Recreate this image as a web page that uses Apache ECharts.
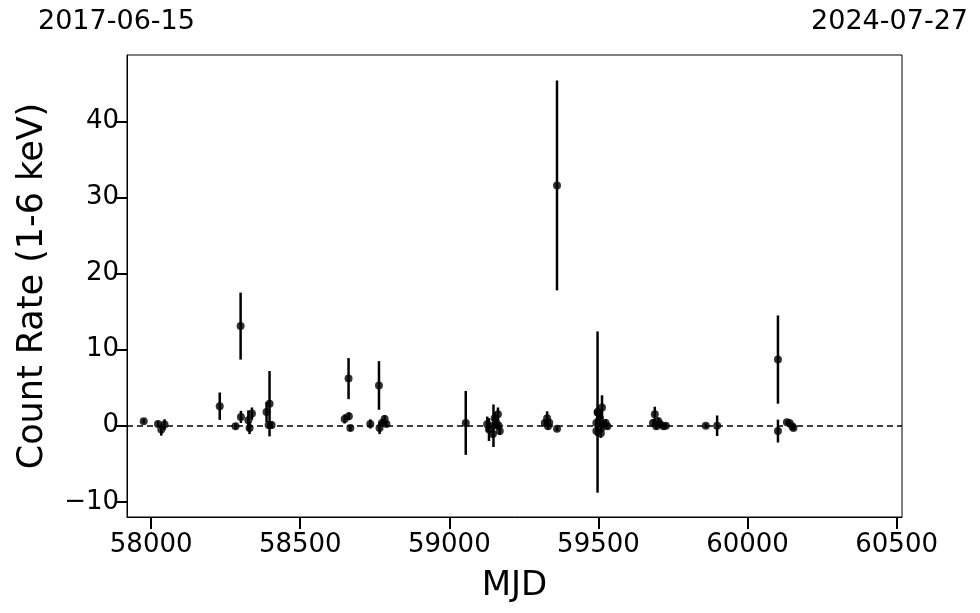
<!DOCTYPE html>
<html>
<head>
<meta charset="utf-8">
<script src="https://cdn.jsdelivr.net/npm/echarts@6/dist/echarts.min.js"></script>
<style>html,body{margin:0;padding:0;background:#fff;}#c{width:980px;height:613px;}</style>
</head>
<body>
<div id="c"></div>
<script>
// ---- data ----
const mjd  = [57975,58023,58034,58045,58230,58283,58300,58301,58326,58330,58338,58387,58397,58394,58404,
              58649,58662,58663,58668,58735,58764,58766,58774,58783,58789,
              59055,59127,59133,59146,59148,59152,59158,59163,59169,59165,
              59320,59328,59331,59335,59361,59361,
              59493,59497,59498,59512,59505,59510,59515,59524,59530,59493,59508,
              59689,59683,59694,59701,59707,59718,59726,
              59860,59898,60102,60102,60132,60141,60150,60154];
const rate = [0.6,0.24,-0.5,0.15,2.57,-0.07,13.1,1.16,0.72,-0.3,1.6,1.8,2.9,0.1,0.1,
              0.9,6.2,1.25,-0.3,0.24,5.3,-0.3,0.37,0.9,0.24,
              0.37,0.2,-0.5,-1.1,0.0,1.0,0.37,1.5,-0.7,0.0,
              0.37,1.0,-0.07,0.4,-0.4,31.6,
              0.37,1.8,1.7,2.4,1.0,-0.3,0.2,0.37,-0.07,-0.7,-1.0,
              1.5,0.37,-0.07,0.6,0.2,-0.07,0.0,
              0.0,0.0,8.7,-0.7,0.46,0.37,-0.07,-0.3];
const err  = [0.3,0.4,0.8,0.7,1.8,0.4,4.4,0.8,1.3,0.8,0.8,1.3,4.3,0.5,0.5,
              0.6,2.7,0.5,0.4,0.6,3.2,0.8,0.4,0.5,0.4,
              4.2,1.0,1.5,0.5,2.8,0.8,0.6,0.9,0.5,0.5,
              0.4,0.9,0.4,0.4,0.3,13.8,
              0.6,10.6,0.8,1.6,0.8,0.6,0.5,0.5,0.4,0.6,0.6,
              1.0,0.5,0.4,0.5,0.4,0.3,0.3,
              0.3,1.35,5.8,1.5,0.3,0.3,0.3,0.3];
const xTicks = [58000,58500,59000,59500,60000,60500];
const yTicks = [-10,0,10,20,30,40];
const xMin = 57919, xMax = 60518;   // 2017-06-15 .. 2024-07-27
const yMin = -12.0, yMax = 48.75;
const dateLeft = '2017-06-15', dateRight = '2024-07-27';

const points = mjd.map((m,i)=>[m, rate[i], err[i]]);

const chart = echarts.init(document.getElementById('c'), null, {renderer:'canvas'});
const FONT = 'DejaVu Sans';
chart.setOption({
  animation:false,
  textStyle:{fontFamily:FONT, color:'#000'},
  grid:{left:127, right:78, top:55, bottom:96, show:true, borderColor:'#000', borderWidth:1, backgroundColor:'transparent'},
  xAxis:{
    type:'value', min:xMin, max:xMax,
    name:'MJD', nameLocation:'middle', nameGap:52,
    nameTextStyle:{fontSize:34, color:'#000', fontFamily:FONT},
    axisLine:{show:true, onZero:false, lineStyle:{color:'#000', width:1}},
    axisTick:{show:true, length:12, lineStyle:{color:'#000', width:2}, customValues:xTicks},
    axisLabel:{fontSize:26, color:'#000', margin:15, fontFamily:FONT, customValues:xTicks,
      formatter:v=>String(v)},
    splitLine:{show:false}
  },
  yAxis:{
    type:'value', min:yMin, max:yMax,
    name:'Count Rate (1-6 keV)', nameLocation:'middle', nameGap:77, nameRotate:90,
    nameTextStyle:{fontSize:35, color:'#000', fontFamily:FONT},
    axisLine:{show:true, onZero:false, lineStyle:{color:'#000', width:1}},
    axisTick:{show:true, length:12, lineStyle:{color:'#000', width:2}, customValues:yTicks},
    axisLabel:{fontSize:26, color:'#000', margin:8, fontFamily:FONT, customValues:yTicks,
      formatter:v=> v<0 ? '\u2212'+Math.abs(v) : String(v)},
    splitLine:{show:false}
  },
  graphic:[
    {type:'text', left:38, top:8, style:{text:dateLeft, font:'27px "DejaVu Sans"', fill:'#000'}},
    {type:'text', right:12, top:8, style:{text:dateRight, font:'27px "DejaVu Sans"', fill:'#000'}}
  ],
  series:[
    {
      type:'custom', data:points, encode:{x:0,y:1}, z:2,
      renderItem:function(params, api){
        const x = api.value(0), y = api.value(1), e = api.value(2);
        const p1 = api.coord([x, y+e]), p2 = api.coord([x, y-e]);
        return {type:'line', shape:{x1:p1[0], y1:p1[1], x2:p2[0], y2:p2[1]},
                style:{stroke:'#000', lineWidth:2.5}};
      },
      markLine:{silent:true, symbol:['none','none'], label:{show:false},
        lineStyle:{color:'#000', type:[6,4], width:1.5},
        data:[{yAxis:0}]}
    },
    {
      type:'scatter', data:points.map(p=>[p[0],p[1]]), symbol:'circle', symbolSize:8,
      itemStyle:{color:'#000'}, z:3
    }
  ]
});
</script>
</body>
</html>
